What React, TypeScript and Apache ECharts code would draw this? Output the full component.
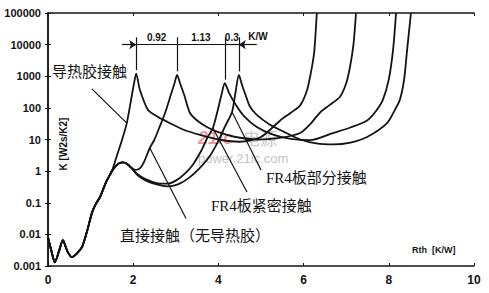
import React, { useEffect, useRef } from "react";
import * as echarts from "echarts";

// Common low-Rth part shared by all four structure functions [Rth K/W, K W2s/K2]
const baseCurve: [number, number][] = [
  [0, 0.008], [0.08, 0.003], [0.16, 0.0013], [0.26, 0.003], [0.35, 0.0066],
  [0.45, 0.003], [0.56, 0.0019], [0.68, 0.0025], [0.8, 0.004], [0.92, 0.013],
  [1.03, 0.047], [1.12, 0.09], [1.22, 0.15], [1.3, 0.28], [1.38, 0.5],
  [1.45, 0.75], [1.5, 1.0],
];

// 导热胶接触
const glueTail: [number, number][] = [
  [1.6, 2.6], [1.74, 10], [1.85, 33], [1.95, 180], [2.02, 600], [2.07, 1200],
  [2.16, 360], [2.35, 85], [2.6, 50], [2.86, 33], [3.2, 20], [3.57, 14],
  [4.0, 10], [4.5, 8.5], [5.0, 12], [5.45, 40], [5.7, 70], [5.92, 120],
  [6.08, 360], [6.18, 1500], [6.25, 6000], [6.31, 100000],
];

// shared hump of the other three
const humpCurve: [number, number][] = [
  [1.6, 1.5], [1.68, 1.8], [1.76, 1.9], [1.85, 1.7], [1.95, 1.3],
];

// 直接接触（无导热胶）
const directTail: [number, number][] = [
  [2.05, 1.1], [2.15, 1.2], [2.25, 1.9], [2.39, 5.4], [2.5, 10], [2.62, 25],
  [2.75, 70], [2.88, 250], [2.97, 600], [3.03, 1100], [3.1, 600], [3.2, 250],
  [3.33, 70], [3.5, 40], [3.73, 25], [4.0, 17], [4.4, 12], [4.9, 10],
  [5.4, 11], [5.92, 16], [6.15, 30], [6.38, 70], [6.6, 120], [6.85, 220],
  [7.0, 600], [7.09, 2000], [7.17, 10000], [7.23, 100000],
];

// FR4板紧密接触
const fr4TightTail: [number, number][] = [
  [2.1, 0.8], [2.3, 0.55], [2.55, 0.42], [2.8, 0.4], [3.0, 0.5], [3.2, 0.8],
  [3.4, 1.6], [3.6, 4.5], [3.75, 12], [3.87, 23], [3.98, 80], [4.07, 250],
  [4.15, 600], [4.25, 300], [4.4, 130], [4.6, 55], [4.9, 25], [5.3, 14],
  [5.7, 10.5], [6.15, 9.5], [6.69, 16], [7.1, 24], [7.49, 40], [7.7, 80],
  [7.86, 180], [8.0, 800], [8.1, 6800], [8.17, 100000],
];

// FR4板部分接触
const fr4PartialTail: [number, number][] = [
  [2.1, 0.75], [2.3, 0.5], [2.55, 0.38], [2.8, 0.33], [3.05, 0.38], [3.3, 0.6],
  [3.55, 1.2], [3.8, 3], [4.0, 9], [4.15, 25], [4.32, 74], [4.4, 300],
  [4.48, 1100], [4.56, 500], [4.64, 250], [4.74, 110], [4.9, 60], [5.2, 30],
  [5.52, 18], [5.92, 10], [6.3, 7.5], [6.69, 7], [7.1, 8], [7.49, 12],
  [7.96, 33], [8.15, 90], [8.26, 180], [8.36, 800], [8.43, 6800], [8.52, 100000],
];

// Peak positions and differences annotated on top
const peakR = [2.07, 3.03, 4.15, 4.48];
const peakK = [1200, 1100, 600, 1100];
const peakDiffLabels = ["0.92", "1.13", "0.3"];
const dimUnit = "K/W";

// Leader lines from labels to curves: [from, to]
const leaders: [[number, number], [number, number]][] = [
  [[1.03, 400], [1.85, 33]],
  [[3.24, 0.032], [2.39, 5.4]],
  [[4.67, 0.22], [3.87, 23]],
  [[5.0, 1.08], [4.32, 74]],
];

const xTicks = [0, 2, 4, 6, 8, 10];
const yTickLabels = ["0.001", "0.01", "0.1", "1", "10", "100", "1000", "10000", "100000"];
const yAxisName = "K [W2s/K2]";
const xAxisName = "Rth  [K/W]";

const labelText = {
  glue: "导热胶接触",
  direct: "直接接触（无导热胶）",
  tight: "FR4板紧密接触",
  partial: "FR4板部分接触",
};

export default function App() {
  const ref = useRef<HTMLDivElement>(null);
  useEffect(() => {
    const chart = echarts.init(ref.current!, null, { renderer: "svg" });
    const ink = "#141414";
    const dimY = 10000;
    const curves = [
      baseCurve.concat(glueTail),
      baseCurve.concat(humpCurve, directTail),
      baseCurve.concat(humpCurve, fr4TightTail),
      baseCurve.concat(humpCurve, fr4PartialTail),
    ];
    const dimLines: any[] = [];
    dimLines.push([
      { coord: [1.74, dimY], symbol: "none" },
      { coord: [peakR[0], dimY], symbol: "arrow" },
    ]);
    for (let i = 0; i < peakR.length - 1; i++) {
      dimLines.push([
        {
          coord: [peakR[i], dimY],
          symbol: "none",
          label: {
            show: true,
            formatter: peakDiffLabels[i],
            position: "insideMiddleTop",
            distance: 2,
            color: ink,
            fontSize: 10,
            fontWeight: "bold",
            fontFamily: "Liberation Sans",
          },
        },
        { coord: [peakR[i + 1], dimY], symbol: "none" },
      ]);
    }
    dimLines.push([
      { coord: [4.9, dimY], symbol: "none" },
      { coord: [peakR[3], dimY], symbol: "arrow" },
    ]);
    peakR.forEach((r, i) => {
      dimLines.push([
        { coord: [r, 17000], symbol: "none" },
        { coord: [r, peakK[i] * 1.3], symbol: "none" },
      ]);
    });
    leaders.forEach((l) => {
      dimLines.push([
        { coord: l[0], symbol: "none" },
        { coord: l[1], symbol: "none" },
      ]);
    });

    const cjk = "'Liberation Serif', 'Noto Sans CJK SC', serif";
    chart.setOption({
      animation: false,
      backgroundColor: "#fff",
      grid: { left: 48, right: 15, top: 13, bottom: 27, containLabel: false, outerBoundsMode: "none" },
      xAxis: [
        {
          type: "value",
          min: xTicks[0],
          max: xTicks[xTicks.length - 1],
          interval: 2,
          axisLine: { show: true, lineStyle: { color: ink, width: 1.5 } },
          axisTick: { show: true, inside: true, length: 3, lineStyle: { color: ink } },
          splitLine: { show: false },
          axisLabel: {
            color: ink,
            fontSize: 12,
            fontWeight: "bold",
            fontFamily: "Liberation Sans",
            margin: 8,
          },
        },
        {
          type: "value",
          position: "top",
          min: xTicks[0],
          max: xTicks[xTicks.length - 1],
          interval: 2,
          axisLine: { show: true, lineStyle: { color: ink, width: 1.5 } },
          axisTick: { show: true, inside: true, length: 3, lineStyle: { color: ink } },
          axisLabel: { show: false },
          splitLine: { show: false },
        },
      ],
      yAxis: [
        {
          type: "log",
          logBase: 10,
          min: 0.001,
          max: 100000,
          splitNumber: 8,
          axisLine: { show: true, lineStyle: { color: ink, width: 1.5 } },
          axisTick: { show: true, inside: true, length: 3, lineStyle: { color: ink } },
          minorTick: { show: false },
          splitLine: { show: false },
          axisLabel: {
            color: ink,
            fontSize: 11,
            fontWeight: "bold",
            fontFamily: "Liberation Sans",
            margin: 7,
            formatter: (v: number) => yTickLabels[Math.round(Math.log10(v)) + 3],
          },
        },
        {
          type: "log",
          logBase: 10,
          position: "right",
          min: 0.001,
          max: 100000,
          splitNumber: 8,
          axisLine: { show: true, lineStyle: { color: ink, width: 1.5 } },
          axisTick: { show: true, inside: true, length: 3, lineStyle: { color: ink } },
          axisLabel: { show: false },
          splitLine: { show: false },
        },
      ],
      series: [
        ...curves.map((d) => ({
          type: "line",
          data: d,
          showSymbol: false,
          smooth: 0.25,
          silent: true,
          lineStyle: { color: ink, width: 1.8 },
          z: 3,
        })),
        {
          type: "line",
          data: [],
          silent: true,
          markLine: {
            silent: true,
            symbolSize: 7,
            lineStyle: { color: ink, width: 1.2, type: "solid" },
            label: { show: false },
            emphasis: { disabled: true },
            data: dimLines,
          },
          markPoint: {
            silent: true,
            symbolSize: 0,
            data: [
              {
                coord: [4.93, 18600],
                label: {
                  show: true,
                  position: "inside",
                  formatter: dimUnit,
                  color: ink,
                  fontSize: 10,
                  fontWeight: "bold",
                  fontFamily: "Liberation Sans",
                },
              },
            ],
          },
        },
      ],
      graphic: [
        { type: "text", left: 198, top: 129, z: 1, style: { text: "21ic", fill: "rgba(220,70,70,0.55)", font: "italic bold 18px 'Liberation Sans'" } },
        { type: "text", left: 243, top: 129, z: 1, style: { text: "电源", fill: "rgba(150,150,150,0.55)", font: "17px 'Noto Sans CJK SC'" } },
        { type: "text", left: 198, top: 152, z: 1, style: { text: "power.21ic.com", fill: "rgba(150,150,150,0.6)", font: "13px 'Liberation Sans'" } },
        {
          type: "text",
          x: 63,
          y: 144,
          rotation: Math.PI / 2,
          z: 10,
          style: { text: yAxisName, fill: ink, font: "bold 10px 'Liberation Sans'", align: "center", verticalAlign: "middle" },
        },
        { type: "text", left: 52, top: 64, z: 10, style: { text: labelText.glue, fill: ink, font: `15px ${cjk}` } },
        { type: "text", left: 120, top: 228, z: 10, style: { text: labelText.direct, fill: ink, font: `15px ${cjk}` } },
        { type: "text", left: 211, top: 198, z: 10, style: { text: labelText.tight, fill: ink, font: `15px ${cjk}` } },
        { type: "text", left: 266, top: 170, z: 10, style: { text: labelText.partial, fill: ink, font: `15px ${cjk}` } },
        { type: "text", left: 412, top: 245, z: 10, style: { text: xAxisName, fill: ink, font: "bold 9px 'Liberation Sans'" } },
      ],
    });
    return () => chart.dispose();
  }, []);
  return (
    <div
      ref={ref}
      style={{ position: "fixed", left: 0, top: 0, width: 489, height: 293, background: "#fff" }}
    />
  );
}
